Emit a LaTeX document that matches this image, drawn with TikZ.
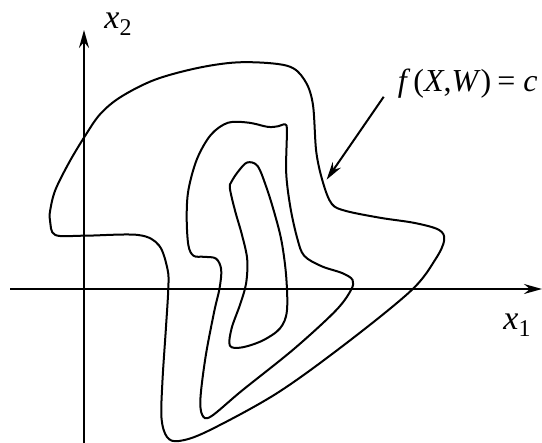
\documentclass[tikz,border=0pt]{standalone}
\usepackage{fontspec}
\setmainfont{Liberation Serif}
\usepackage{tikz}
\usetikzlibrary{arrows.meta, positioning, calc}

\newcommand{\lblvar}[2]{\textit{#1}\raisebox{-0.45ex}{\fontsize{12}{12}\selectfont #2}}

\begin{document}
\begin{tikzpicture}[x=0.5pt, y=-0.5pt,
    axis/.style={line width=1pt, -{Stealth[length=9pt, width=5pt, inset=3pt]}},
    level/.style={line width=1pt, smooth cycle, tension=0.55},
    lbl/.style={font=\fontsize{17}{20}\selectfont, inner sep=1pt}]
    \useasboundingbox (0,0) rectangle (542,443);

    \coordinate (xs) at (10, 289);
    \coordinate (xe) at (542, 289);
    \coordinate (ys) at (84, 443);
    \coordinate (ye) at (84, 30);
    \draw[axis] (xs) -- (xe);
    \draw[axis] (ys) -- (ye);
    \node[lbl] (x1) at (517, 325) {\lblvar{x}{1}};
    \node[lbl] (x2) at (118, 24) {\lblvar{x}{2}};

    \draw[level] plot coordinates {
        (50.1, 221.2) (55.3, 235.0) (84.7, 235.7) (138.3, 235.0) (159.0, 245.4)
        (167.6, 269.6) (168.3, 288.6) (165.9, 328.4) (162.5, 380.2) (161.5, 418.0)
        (167.0, 437.0) (179.0, 441.0) (207.4, 431.3) (276.5, 393.5) (345.7, 343.7)
        (411.3, 290.4) (435.5, 259.2) (444.2, 240.2) (439.0, 229.9) (414.8, 223.0)
        (380.2, 217.8) (345.7, 210.9) (331.8, 203.9) (323.2, 183.2) (316.3, 152.1)
        (312.8, 103.7) (304.2, 79.5) (286.9, 65.7) (242.0, 62.2) (200.5, 67.4)
        (155.5, 79.5) (121.0, 96.8) (100.2, 114.1) (84.7, 136.5) (69.1, 162.5)
        (55.3, 190.1) (50.1, 210.9)};
    \draw[level] plot coordinates {
        (285.2, 124.4) (286.9, 131.4) (286.2, 172.8) (290.4, 207.4) (297.3, 238.5)
        (304.2, 255.8) (321.5, 266.2) (342.2, 273.1) (352.6, 280.0) (350.8, 290.4)
        (335.3, 311.1) (293.8, 349.1) (242.0, 390.6) (210.9, 416.5) (202.2, 414.8)
        (200.5, 397.5) (205.7, 356.0) (214.3, 311.1) (219.5, 288.6) (221.2, 269.6)
        (216.0, 258.6) (203.9, 256.8) (193.6, 255.8) (188.4, 245.4) (186.7, 217.8)
        (188.4, 190.1) (197.0, 159.0) (210.9, 134.8) (228.1, 122.7) (248.9, 122.7)
        (267.9, 126.9) (278.3, 126.2)};
    \draw[level] plot coordinates {
        (247.2, 162.5) (257.5, 165.9) (266.2, 186.7) (274.8, 214.3) (281.7, 242.0)
        (286.2, 276.5) (286.9, 311.1) (280.0, 328.4) (262.7, 340.5) (242.0, 347.4)
        (229.9, 345.7) (231.6, 328.4) (240.2, 304.2) (246.1, 283.4) (247.2, 259.2)
        (242.0, 235.0) (235.1, 210.9) (229.9, 188.4) (231.6, 181.5) (238.5, 171.1)};

    \node[lbl, font=\fontsize{16}{19}\selectfont, anchor=east] (eq) at (540, 84)
        {\textit{f}\kern1.5pt(\textit{X},\textit{W})\kern-1pt\ = \textit{c}};
    \coordinate (as) at (383.7, 96.8);
    \coordinate (ae) at (326.6, 179.7);
    \draw[axis] (as) -- (ae);
\end{tikzpicture}
\end{document}
